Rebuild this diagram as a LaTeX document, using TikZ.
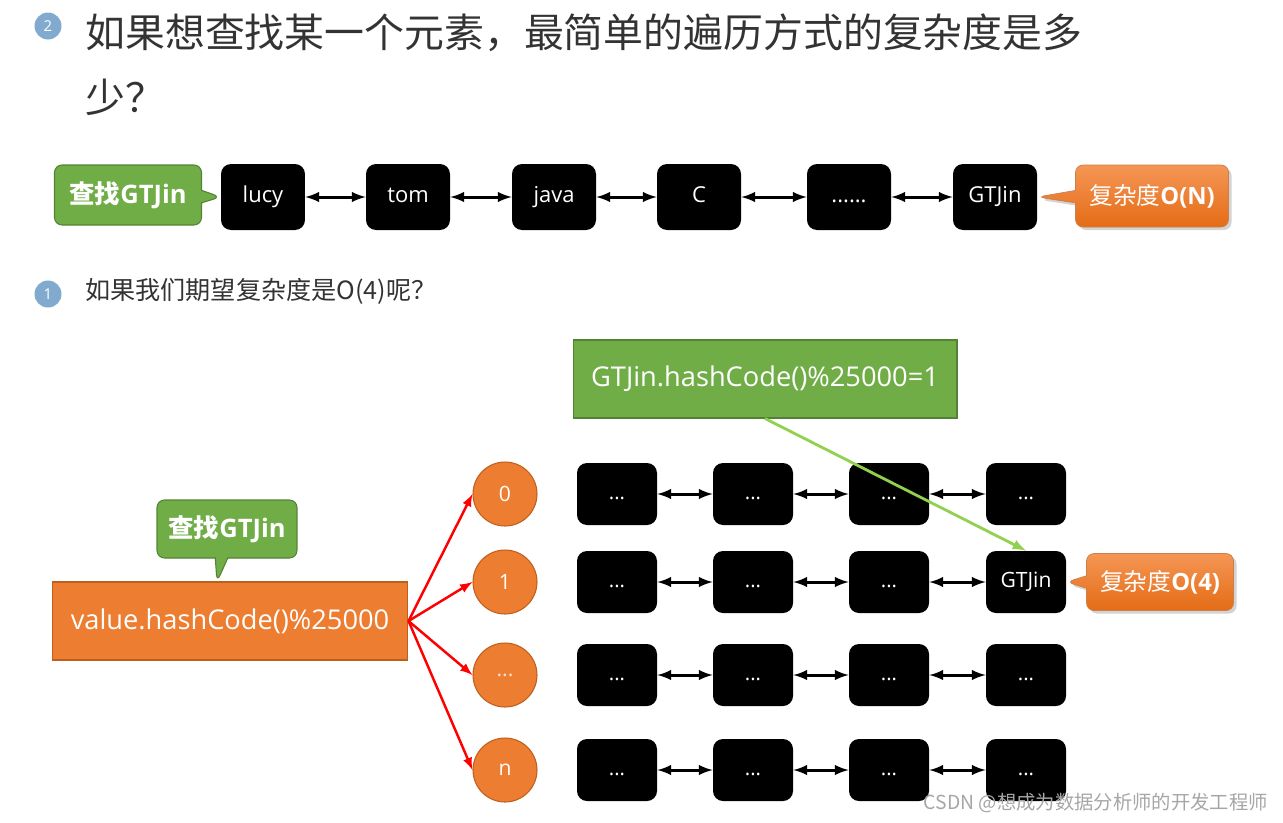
\documentclass[tikz,border=0pt]{standalone}
\usepackage{fontspec}
\setmainfont{Open Sans}
\newfontfamily\cjk{Noto Sans CJK SC}
\usetikzlibrary{shapes.callouts,shadows}

\definecolor{g1}{RGB}{112,173,71}
\definecolor{g2}{RGB}{84,130,53}
\definecolor{g3}{RGB}{146,208,80}
\definecolor{o1}{RGB}{237,125,49}
\definecolor{o2}{RGB}{190,95,30}
\definecolor{o3}{RGB}{245,150,85}
\definecolor{o4}{RGB}{228,108,22}
\definecolor{b1}{RGB}{130,170,206}
\definecolor{t1}{RGB}{51,51,51}

\begin{document}
\begin{tikzpicture}[x=0.02cm,y=-0.02cm,
    elem/.style={fill=black,rounded corners=0.2cm,minimum width=1.68cm,minimum height=1.32cm,text height=1.5ex,text depth=0.3ex,text=white,font=\fontsize{12.5}{15}\selectfont},
    cell/.style={fill=black,rounded corners=0.2cm,minimum width=1.6cm,minimum height=1.24cm,text height=1.5ex,text depth=0.3ex,text=white,font=\fontsize{11.5}{14}\selectfont},
    slot/.style={circle,fill=o1,draw=o2,line width=0.6pt,minimum size=1.28cm,inner sep=0pt,text=white,font=\fontsize{12}{14}\selectfont},
    link/.style={arrows={latex-latex},line width=1.7pt},
    hit/.style={arrows={-latex},red,line width=1.4pt},
    bullet/.style={circle,fill=b1,minimum size=0.54cm,inner sep=0pt,text=white,font=\fontsize{8.5}{10}\selectfont},
    ask/.style={rectangle callout,fill=g1,draw=g2,line width=0.6pt,rounded corners=0.15cm,text=white,font=\fontsize{14.5}{16}\selectfont\bfseries},
    cost/.style={rectangle callout,draw=o2!80,line width=0.4pt,top color=o3,bottom color=o4,rounded corners=0.15cm,text=white,drop shadow={opacity=0.35,shadow xshift=0.06cm,shadow yshift=-0.06cm},font=\fontsize{13.5}{16}\selectfont},
    hbox/.style={draw,line width=0.6pt,text=white,minimum height=1.56cm,font=\fontsize{15.5}{18}\selectfont}
  ]
      \useasboundingbox (0,0) rectangle (1283,822);

      % question 2
      \node[bullet] (n2) at (48,26) {2};
      \node[anchor=west,inner sep=0pt,text=t1,font=\cjk\fontsize{22.7}{27}\selectfont] (title1) at (85,33) {如果想查找某一个元素，最简单的遍历方式的复杂度是多};
      \node[anchor=west,inner sep=0pt,text=t1,font=\cjk\fontsize{22.7}{27}\selectfont] (title2) at (85,97) {少？};

      \node[elem] (lucy) at (263,197) {lucy};
      \node[elem] (tom) at (408,197) {tom};
      \node[elem] (java) at (554,197) {java};
      \node[elem] (cc) at (699,197) {C};
      \node[elem] (more) at (849,197) {......};
      \node[elem] (gtjin) at (995,197) {GTJin};

      \draw[link] (lucy) -- (tom);
      \draw[link] (tom) -- (java);
      \draw[link] (java) -- (cc);
      \draw[link] (cc) -- (more);
      \draw[link] (more) -- (gtjin);

      \node[ask,minimum width=2.94cm,minimum height=1.2cm,callout absolute pointer={(lucy.west)}] (ask1) at (128,195) {{\cjk 查找}GTJin};
      \node[cost,minimum width=3.06cm,minimum height=1.24cm,callout absolute pointer={(gtjin.east)}] (cost1) at (1152,196) {{\cjk 复杂度}\textbf{O(N)}};

      % question 1
      \node[bullet] (n1) at (48,294) {1};
      \node[anchor=west,inner sep=0pt,text=t1,font=\cjk\fontsize{14.3}{17}\selectfont] (quest) at (85,291) {如果我们期望复杂度是O(4)呢？};

      \node[hbox,fill=g1,draw=g2,minimum width=7.68cm] (hash) at (765,379) {GTJin.hashCode()\%25000=1};
      \node[hbox,fill=o1,draw=o2,minimum width=7.12cm] (value) at (230,621) {value.hashCode()\%25000};

      \coordinate (asktip) at (217,582);
      \node[ask,minimum width=2.8cm,minimum height=1.16cm,callout absolute pointer={(asktip)}] (ask2) at (227,529) {{\cjk 查找}GTJin};

      \node[slot] (s0) at (505,494) {0};
      \node[slot] (s1) at (505,582) {1};
      \node[slot,text=white!75!o1] (s2) at (505,675) {...};
      \node[slot] (sn) at (505,770) {n};

      \draw[hit] (value.east) -- (s0.west);
      \draw[hit] (value.east) -- (s1.west);
      \draw[hit] (value.east) -- (s2.west);
      \draw[hit] (value.east) -- (sn.west);

      \node[cell] (c11) at (617,494) {...};
      \node[cell] (c12) at (753,494) {...};
      \node[cell] (c13) at (889,494) {...};
      \node[cell] (c14) at (1026,494) {...};

      \node[cell] (c21) at (617,582) {...};
      \node[cell] (c22) at (753,582) {...};
      \node[cell] (c23) at (889,582) {...};
      \node[cell,font=\fontsize{12}{14}\selectfont] (c24) at (1026,582) {GTJin};

      \node[cell] (c31) at (617,675) {...};
      \node[cell] (c32) at (753,675) {...};
      \node[cell] (c33) at (889,675) {...};
      \node[cell] (c34) at (1026,675) {...};

      \node[cell] (c41) at (617,770) {...};
      \node[cell] (c42) at (753,770) {...};
      \node[cell] (c43) at (889,770) {...};
      \node[cell] (c44) at (1026,770) {...};

      \draw[link] (c11) -- (c12);
      \draw[link] (c12) -- (c13);
      \draw[link] (c13) -- (c14);

      \draw[link] (c21) -- (c22);
      \draw[link] (c22) -- (c23);
      \draw[link] (c23) -- (c24);

      \draw[link] (c31) -- (c32);
      \draw[link] (c32) -- (c33);
      \draw[link] (c33) -- (c34);

      \draw[link] (c41) -- (c42);
      \draw[link] (c42) -- (c43);
      \draw[link] (c43) -- (c44);

      \draw[arrows={-latex},g3,line width=1.6pt] (hash.south) -- (c24.north);

      \node[cost,minimum width=2.94cm,minimum height=1.14cm,callout absolute pointer={(c24.east)}] (cost2) at (1160,582) {{\cjk 复杂度}\textbf{O(4)}};

      \node[anchor=east,inner sep=0pt,text=black!35,font=\cjk\fontsize{11}{13}\selectfont] (mark) at (1268,803) {CSDN @想成为数据分析师的开发工程师};
\end{tikzpicture}
\end{document}
